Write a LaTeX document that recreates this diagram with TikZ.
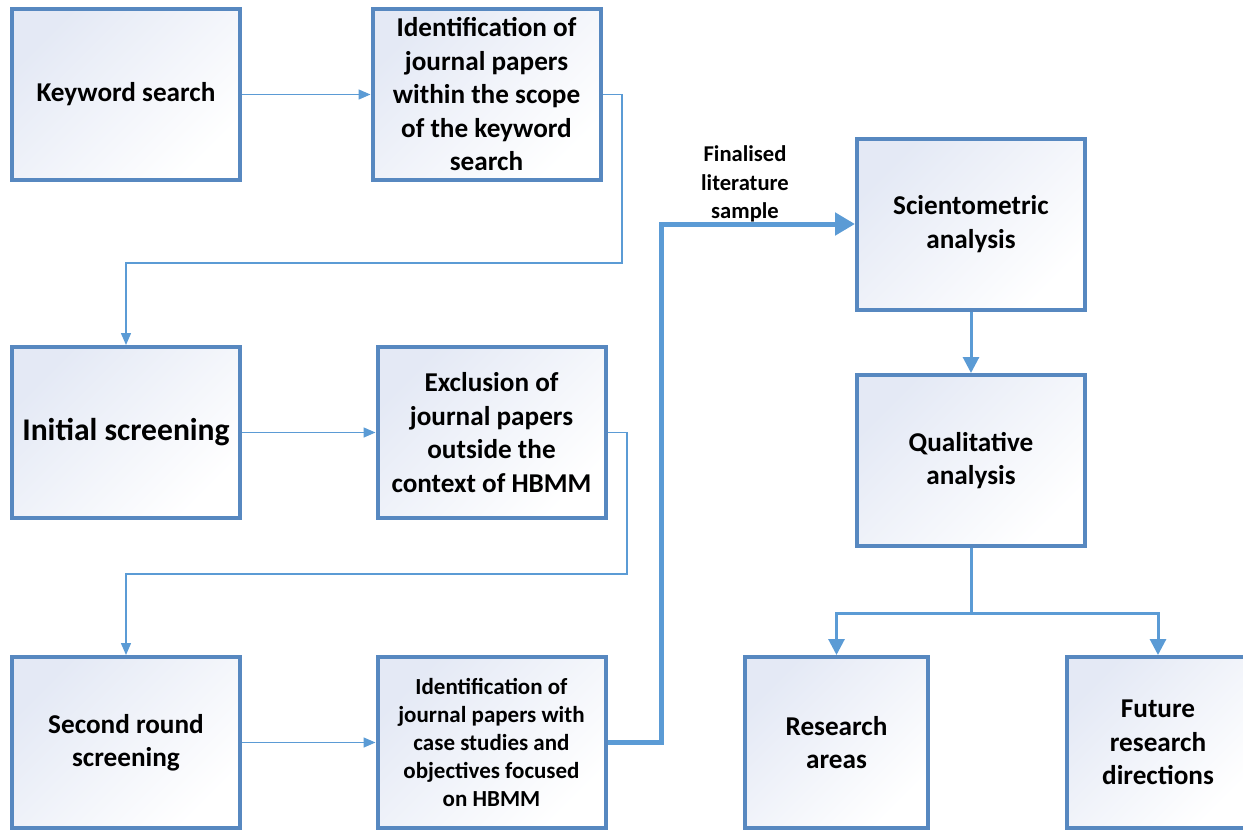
\documentclass[tikz,border=0pt]{standalone}
\usepackage{fontspec}
\setmainfont{Carlito}
\usetikzlibrary{arrows.meta}
\definecolor{boxline}{HTML}{5788C0}
\definecolor{flowline}{HTML}{5B9BD5}
\definecolor{boxtint}{HTML}{E4E9F5}

\begin{document}
\begin{tikzpicture}[x=0.5pt,y=-0.5pt]
        \tikzstyle{stage} = [rectangle, draw=boxline, line width=2pt, top color=boxtint, bottom color=white, shading angle=45, minimum width=114pt, minimum height=85.5pt, inner sep=2pt, align=center, font=\bfseries\fontsize{13.6}{16.75}\selectfont]
        \tikzstyle{smallstage} = [stage, font=\bfseries\fontsize{11.5}{14}\selectfont]
        \tikzstyle{thinflow} = [flowline, line width=0.75pt, -{Triangle[length=6pt, width=5pt]}]
        \tikzstyle{midflow} = [flowline, line width=1.5pt, -{Triangle[length=8pt, width=8pt]}]
        \tikzstyle{bigflow} = [flowline, line width=2.5pt, -{Triangle[length=10pt, width=11pt]}]
        \useasboundingbox (0,0) rectangle (1243,831);
        % left column
        \node[stage] (kw) at (126,94.5) {Keyword search};
        \node[stage] (init) at (126,432.5) {\fontsize{15.8}{18}\selectfont Initial screening};
        \node[stage] (second) at (126,742.5) {Second round\\screening};
        % middle column
        \node[stage] (idscope) at (486.5,94.5) {Identification of\\journal papers\\within the scope\\of the keyword\\search};
        \node[stage] (excl) at (491.5,432.5) {Exclusion of\\journal papers\\outside the\\context of HBMM};
        \node[smallstage] (idcase) at (491.5,742.5) {Identification of\\journal papers with\\case studies and\\objectives focused\\on HBMM};
        % right part
        \node[stage] (scient) at (971,224) {Scientometric\\analysis};
        \node[stage] (qual) at (971,460.5) {Qualitative\\analysis};
        \node[stage, minimum width=91.5pt] (areas) at (836.5,742.5) {Research\\areas};
        \node[stage, minimum width=91.5pt] (future) at (1158,742.5) {Future\\research\\directions};
        \node[align=center, font=\bfseries\fontsize{11.3}{14.25}\selectfont] (finlabel) at (745,184) {Finalised\\literature\\sample};
        \coordinate (turn1) at (622,263);
        \coordinate (turn2) at (627,574);
        \coordinate (hop) at (661,742.5);
        \coordinate (split) at (971,613);
        % connectors
        \draw[thinflow] (kw) -- (idscope);
        \draw[thinflow] (init) -- (excl);
        \draw[thinflow] (second) -- (idcase);
        \draw[thinflow] (idscope.east) -| (turn1) -| (init.north);
        \draw[thinflow] (excl.east) -| (turn2) -| (second.north);
        \draw[bigflow] (idcase.east) -- (hop) |- (scient.west);
        \draw[midflow] (scient) -- (qual);
        \draw[flowline, line width=1.5pt] (qual) -- (split);
        \draw[midflow] (split) -| (areas.north);
        \draw[midflow] (split) -| (future.north);
\end{tikzpicture}
\end{document}
